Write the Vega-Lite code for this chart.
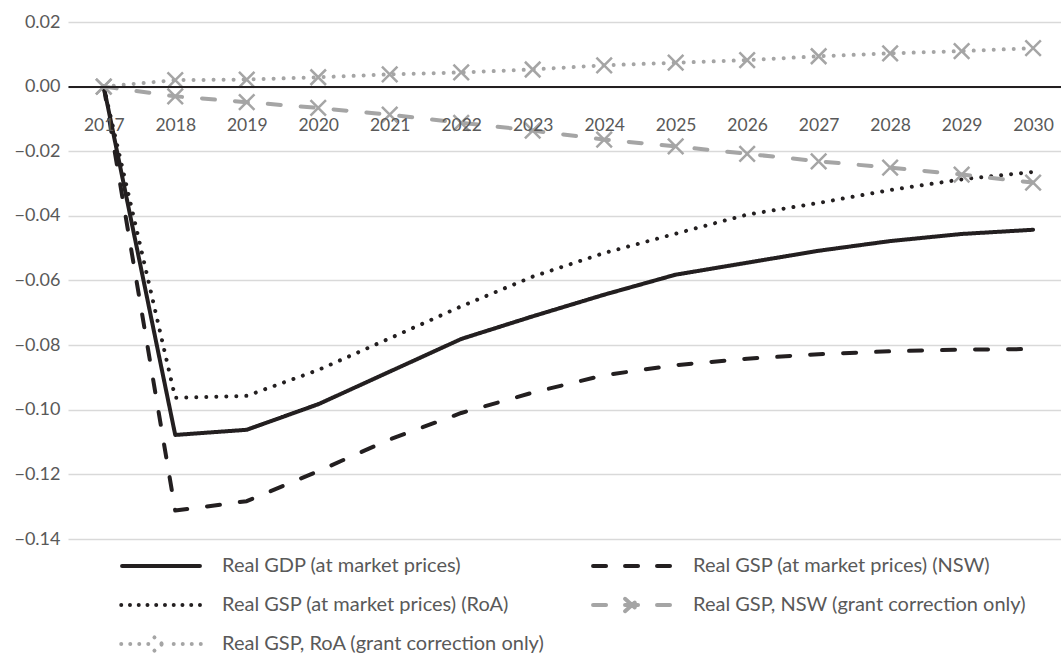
{
  "$schema": "https://vega.github.io/schema/vega-lite/v6.json",
  "width": 993,
  "height": 517,
  "autosize": {"type": "none"},
  "padding": {"left": 68, "top": 22, "right": 0, "bottom": 121},
  "background": "white",
  "config": {"view": {"stroke": null}, "font": "Lato"},
  "data": {
    "values": [
      {"year": 2017, "series": "gdp", "value": 0},
      {"year": 2018, "series": "gdp", "value": -0.1078},
      {"year": 2019, "series": "gdp", "value": -0.1062},
      {"year": 2020, "series": "gdp", "value": -0.0983},
      {"year": 2021, "series": "gdp", "value": -0.0882},
      {"year": 2022, "series": "gdp", "value": -0.0781},
      {"year": 2023, "series": "gdp", "value": -0.0711},
      {"year": 2024, "series": "gdp", "value": -0.0644},
      {"year": 2025, "series": "gdp", "value": -0.0582},
      {"year": 2026, "series": "gdp", "value": -0.0545},
      {"year": 2027, "series": "gdp", "value": -0.0508},
      {"year": 2028, "series": "gdp", "value": -0.0478},
      {"year": 2029, "series": "gdp", "value": -0.0456},
      {"year": 2030, "series": "gdp", "value": -0.0443},
      {"year": 2017, "series": "nsw", "value": 0},
      {"year": 2018, "series": "nsw", "value": -0.1312},
      {"year": 2019, "series": "nsw", "value": -0.1283},
      {"year": 2020, "series": "nsw", "value": -0.1190},
      {"year": 2021, "series": "nsw", "value": -0.1092},
      {"year": 2022, "series": "nsw", "value": -0.1010},
      {"year": 2023, "series": "nsw", "value": -0.0947},
      {"year": 2024, "series": "nsw", "value": -0.0893},
      {"year": 2025, "series": "nsw", "value": -0.0862},
      {"year": 2026, "series": "nsw", "value": -0.0842},
      {"year": 2027, "series": "nsw", "value": -0.0828},
      {"year": 2028, "series": "nsw", "value": -0.0819},
      {"year": 2029, "series": "nsw", "value": -0.0814},
      {"year": 2030, "series": "nsw", "value": -0.0812},
      {"year": 2017, "series": "roa", "value": 0},
      {"year": 2018, "series": "roa", "value": -0.0963},
      {"year": 2019, "series": "roa", "value": -0.0957},
      {"year": 2020, "series": "roa", "value": -0.0877},
      {"year": 2021, "series": "roa", "value": -0.0779},
      {"year": 2022, "series": "roa", "value": -0.0680},
      {"year": 2023, "series": "roa", "value": -0.0588},
      {"year": 2024, "series": "roa", "value": -0.0515},
      {"year": 2025, "series": "roa", "value": -0.0455},
      {"year": 2026, "series": "roa", "value": -0.0396},
      {"year": 2027, "series": "roa", "value": -0.0360},
      {"year": 2028, "series": "roa", "value": -0.0320},
      {"year": 2029, "series": "roa", "value": -0.0287},
      {"year": 2030, "series": "roa", "value": -0.0264},
      {"year": 2017, "series": "nswg", "value": 0},
      {"year": 2018, "series": "nswg", "value": -0.0030},
      {"year": 2019, "series": "nswg", "value": -0.0048},
      {"year": 2020, "series": "nswg", "value": -0.0066},
      {"year": 2021, "series": "nswg", "value": -0.0087},
      {"year": 2022, "series": "nswg", "value": -0.0112},
      {"year": 2023, "series": "nswg", "value": -0.0136},
      {"year": 2024, "series": "nswg", "value": -0.0164},
      {"year": 2025, "series": "nswg", "value": -0.0185},
      {"year": 2026, "series": "nswg", "value": -0.0208},
      {"year": 2027, "series": "nswg", "value": -0.0231},
      {"year": 2028, "series": "nswg", "value": -0.0251},
      {"year": 2029, "series": "nswg", "value": -0.0272},
      {"year": 2030, "series": "nswg", "value": -0.0297},
      {"year": 2017, "series": "roag", "value": 0},
      {"year": 2018, "series": "roag", "value": 0.0020},
      {"year": 2019, "series": "roag", "value": 0.0022},
      {"year": 2020, "series": "roag", "value": 0.0029},
      {"year": 2021, "series": "roag", "value": 0.0038},
      {"year": 2022, "series": "roag", "value": 0.0044},
      {"year": 2023, "series": "roag", "value": 0.0053},
      {"year": 2024, "series": "roag", "value": 0.0066},
      {"year": 2025, "series": "roag", "value": 0.0074},
      {"year": 2026, "series": "roag", "value": 0.0082},
      {"year": 2027, "series": "roag", "value": 0.0094},
      {"year": 2028, "series": "roag", "value": 0.0103},
      {"year": 2029, "series": "roag", "value": 0.0110},
      {"year": 2030, "series": "roag", "value": 0.0119}
    ]
  },
  "layer": [
    {
      "mark": {"type": "line", "strokeCap": "round", "strokeJoin": "round"},
      "encoding": {
        "x": {
          "field": "year", "type": "quantitative",
          "scale": {"domain": [2016.5, 2030.39], "nice": false, "zero": false},
          "axis": {
            "orient": "bottom", "offset": -452.4, "title": null, "grid": false,
            "values": [2017, 2018, 2019, 2020, 2021, 2022, 2023, 2024, 2025, 2026, 2027, 2028, 2029, 2030],
            "format": "d", "ticks": false, "tickSize": 0, "labelPadding": 30,
            "labelFont": "Lato", "labelFontSize": 17.5, "labelColor": "#595959",
            "labelOverlap": false, "labelFlush": false,
            "domainColor": "#231f20", "domainWidth": 2, "zindex": 1
          }
        },
        "y": {
          "field": "value", "type": "quantitative",
          "scale": {"domain": [-0.14, 0.02], "nice": false, "zero": false},
          "axis": {
            "title": null, "domain": false, "ticks": false, "labelPadding": 8,
            "values": [-0.14, -0.12, -0.1, -0.08, -0.06, -0.04, -0.02, 0, 0.02],
            "format": ".2f", "gridColor": "#d9d9d9", "gridWidth": 1.5,
            "labelFont": "Lato", "labelFontSize": 18, "labelColor": "#595959"
          }
        },
        "color": {
          "field": "series", "type": "nominal",
          "scale": {"domain": ["gdp", "nsw", "roa", "nswg", "roag"], "range": ["#231f20", "#231f20", "#231f20", "#a5a5a5", "#a5a5a5"]},
          "legend": {
            "orient": "none", "legendX": 50, "legendY": 534, "columns": 2, "direction": "horizontal", "title": null,
            "padding": 0, "labelLimit": 0,
            "labelExpr": "datum.value == 'gdp' ? 'Real GDP (at market prices)' : datum.value == 'nsw' ? 'Real GSP (at market prices) (NSW)' : datum.value == 'roa' ? 'Real GSP (at market prices) (RoA)' : datum.value == 'nswg' ? 'Real GSP, NSW (grant correction only)' : 'Real GSP, RoA (grant correction only)'",
            "labelFont": "Lato", "labelFontSize": 20, "labelColor": "#595959",
            "symbolType": "stroke", "symbolSize": 6724, "symbolStrokeWidth": 4,
            "clipHeight": 20, "rowPadding": 19, "columnPadding": 44, "labelOffset": 18,
            "encode": {
              "symbols": {
                "update": {
                  "shape": {"signal": "datum.value == 'gdp' ? 'M-0.95,0L0.95,0' : datum.value == 'nsw' ? 'M-0.95,0L-0.61,0M-0.17,0L0.17,0M0.61,0L0.95,0' : datum.value == 'roa' ? 'M-0.97,0L-0.968,0M-0.757,0L-0.755,0M-0.543,0L-0.541,0M-0.33,0L-0.328,0M-0.117,0L-0.115,0M0.097,0L0.099,0M0.31,0L0.312,0M0.523,0L0.525,0M0.737,0L0.739,0M0.95,0L0.952,0' : datum.value == 'nswg' ? 'M-0.95,0L-0.61,0M-0.17,0L0.17,0M0.61,0L0.95,0M-0.17,-0.15L0.17,0.15M-0.17,0.15L0.17,-0.15' : 'M-0.97,0L-0.968,0M-0.75,0L-0.748,0M-0.53,0L-0.528,0M-0.31,0L-0.308,0M0.31,0L0.312,0M0.53,0L0.532,0M0.75,0L0.752,0M0.97,0L0.972,0M-0.16,-0.16L0.16,0.16M-0.16,0.16L0.16,-0.16'"},
                  "strokeWidth": {"signal": "datum.value == 'gdp' || datum.value == 'nsw' ? 4 : datum.value == 'roa' || datum.value == 'nswg' ? 3.5 : 3"},
                  "strokeDash": {"value": []},
                  "strokeCap": {"value": "round"},
                  "fill": {"value": "transparent"}
                }
              }
            }
          }
        },
        "strokeDash": {
          "field": "series", "type": "nominal",
          "scale": {"domain": ["gdp", "nsw", "roa", "nswg", "roag"], "range": [[1, 0], [13, 20], [0.01, 10], [13, 20], [0.01, 10]]},
          "legend": null
        },
        "strokeWidth": {
          "field": "series", "type": "ordinal",
          "scale": {"domain": ["gdp", "nsw", "roa", "nswg", "roag"], "range": [4, 4, 3.5, 4, 3]},
          "legend": null
        }
      }
    },
    {
      "transform": [{"filter": "datum.series == 'nswg' || datum.series == 'roag'"}],
      "mark": {"type": "point", "shape": "M-1,-1L1,1M-1,1L1,-1", "filled": false, "stroke": "#a5a5a5", "strokeWidth": 2.5, "size": 240, "opacity": 1},
      "encoding": {
        "x": {"field": "year", "type": "quantitative"},
        "y": {"field": "value", "type": "quantitative"}
      }
    }
  ]
}
